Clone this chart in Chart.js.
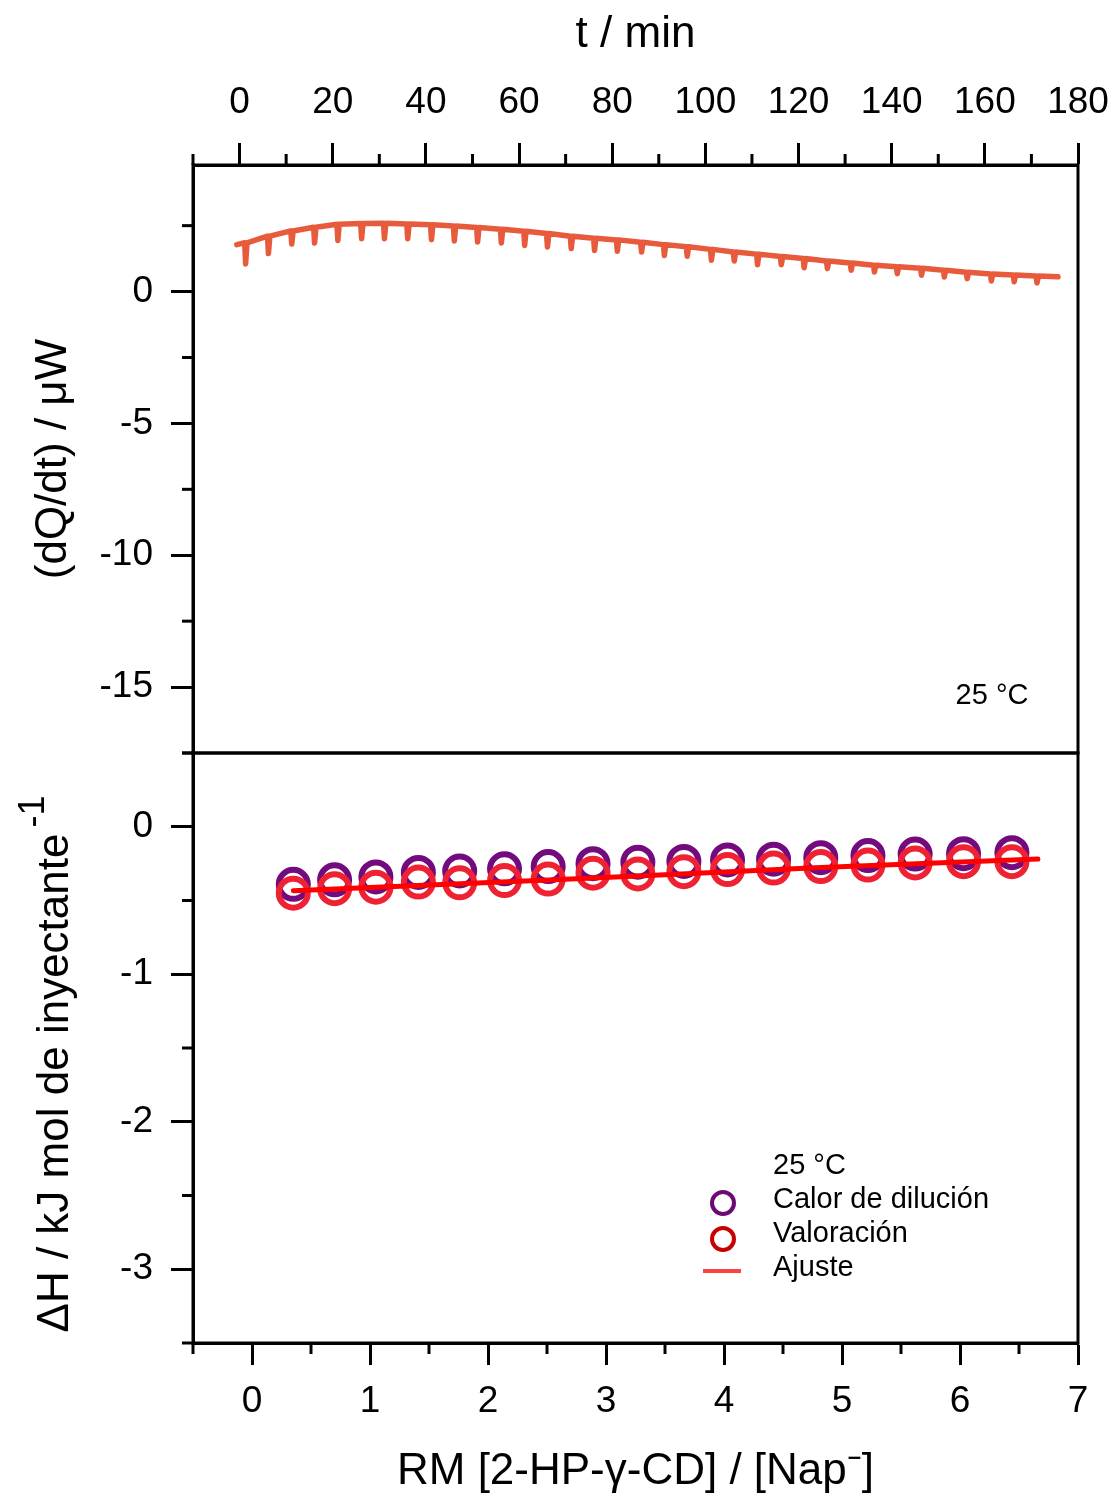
<!DOCTYPE html>
<html lang="es">
<head>
  <meta charset="UTF-8" />
  <title>ITC 2-HP-γ-CD / Nap⁻ - 25 °C</title>
  <script src="https://cdn.jsdelivr.net/npm/chart.js@4.4.1/dist/chart.umd.min.js"></script>
  <style>
    body { margin: 0; background: #fff; }
    #wrap { position: relative; width: 1115px; height: 1498px; }
    #wrap canvas { position: absolute; left: 0; }
    #thermo { top: 0; }
    #enthalpy { top: 750px; }
  </style>
</head>
<body>
  <div id="wrap">
    <canvas id="thermo" width="1115" height="757"></canvas>
    <canvas id="enthalpy" width="1115" height="748"></canvas>
  </div>

  <script>
    // ---- top panel: raw thermogram (t / min vs dQ/dt / µW) ----
    const injTime = [1.3, 6.2, 11.2, 16.1, 21.1, 26.2, 31.1, 36.1, 41.2, 46.1,
                     51.1, 56.2, 61.2, 66.1, 71.2, 76.2, 81.1, 86.3, 91.2, 96.1,
                     101.3, 106.2, 111.2, 116.3, 121.2, 126.2, 131.3, 136.3, 141.2, 146.4,
                     151.3, 156.2, 161.4, 166.3, 171.2];
    const baseline = [1.85, 2.10, 2.30, 2.44, 2.55, 2.58, 2.59, 2.56, 2.53, 2.49,
                      2.43, 2.36, 2.29, 2.20, 2.10, 2.02, 1.96, 1.87, 1.78, 1.70,
                      1.60, 1.50, 1.42, 1.33, 1.25, 1.16, 1.08, 1.00, 0.94, 0.88,
                      0.81, 0.73, 0.67, 0.63, 0.59];
    const spikeMin = [1.05, 1.44, 1.80, 1.84, 1.94, 2.00, 2.00, 2.00, 1.97, 1.92,
                      1.88, 1.84, 1.75, 1.69, 1.63, 1.56, 1.53, 1.50, 1.37, 1.34,
                      1.19, 1.16, 1.02, 1.02, 0.90, 0.87, 0.81, 0.74, 0.68, 0.62,
                      0.55, 0.49, 0.40, 0.37, 0.33];
    const traceStart = { x: -0.6, y: 1.78 };
    const traceEnd = { x: 175.7, y: 0.56 };

    const timeTicks = [0, 20, 40, 60, 80, 100, 120, 140, 160, 180];
    const timeMinor = [-10, 10, 30, 50, 70, 90, 110, 130, 150, 170];
    const dqTicks = [0, -5, -10, -15];
    const dqMinor = [2.5, -2.5, -7.5, -12.5, -17.5];

    // ---- bottom panel: integrated heats ----
    const rm = [0.35, 0.70, 1.05, 1.41, 1.76, 2.14, 2.51, 2.89, 3.27, 3.66,
                4.03, 4.42, 4.82, 5.22, 5.62, 6.03, 6.44];
    const dilution = [-0.39, -0.36, -0.34, -0.31, -0.30, -0.285, -0.27, -0.25, -0.24, -0.235,
                      -0.225, -0.22, -0.21, -0.195, -0.185, -0.183, -0.176];
    const titration = [-0.45, -0.42, -0.41, -0.375, -0.38, -0.365, -0.355, -0.315, -0.32, -0.305,
                       -0.29, -0.28, -0.27, -0.26, -0.245, -0.237, -0.237];
    const fitRm = [0.35, 1.76, 3.27, 4.82, 6.66];
    const fitDH = [-0.434, -0.386, -0.334, -0.276, -0.219];

    const rmTicks = [0, 1, 2, 3, 4, 5, 6, 7];
    const rmMinor = [-0.5, 0.5, 1.5, 2.5, 3.5, 4.5, 5.5, 6.5];
    const dhTicks = [0, -1, -2, -3];
    const dhMinor = [0.5, -0.5, -1.5, -2.5, -3.5];

    const FONT = "'Liberation Sans', Arial, sans-serif";
    Chart.defaults.font.family = FONT;
    Chart.defaults.color = '#000';

    const GRID = { drawOnChartArea: false, drawTicks: true, tickLength: 22, tickWidth: 3, tickColor: '#000' };
    const BORDER = { display: true, width: 3, color: '#000' };

    function fixedTicks(values) {
      return s => { s.ticks = values.map(v => ({ value: v })); };
    }
    // fixed box size, and no extra room for overhanging tick labels
    function fixedSize(size) {
      return s => {
        if (s.isHorizontal()) s.height = size; else s.width = size;
        s.paddingLeft = s.paddingRight = s.paddingTop = s.paddingBottom = 0;
      };
    }

    // frame on all four sides + short minor ticks
    function framePlugin(minor, extra) {
      return {
        id: 'frame',
        afterDraw(chart) {
          const { ctx, chartArea: a } = chart;
          ctx.save();
          ctx.strokeStyle = '#000';
          ctx.lineWidth = 3;
          ctx.strokeRect(a.left, a.top, a.right - a.left, a.bottom - a.top);
          for (const id in minor) {
            const s = chart.scales[id];
            minor[id].forEach(v => {
              const p = s.getPixelForValue(v);
              ctx.beginPath();
              if (s.isHorizontal()) {
                const y0 = s.position === 'top' ? a.top : a.bottom;
                const dir = s.position === 'top' ? -1 : 1;
                ctx.moveTo(p, y0);
                ctx.lineTo(p, y0 + dir * 11);
              } else {
                ctx.moveTo(a.left, p);
                ctx.lineTo(a.left - 11, p);
              }
              ctx.stroke();
            });
          }
          ctx.restore();
          if (extra) extra(chart);
        }
      };
    }

    // ---- top chart ----
    const trace = [traceStart];
    injTime.forEach((t, i) => {
      trace.push({ x: t - 0.2, y: baseline[i] });
      trace.push({ x: t, y: spikeMin[i] });
      trace.push({ x: t + 0.3, y: baseline[i] });
    });
    trace.push(traceEnd);

    new Chart(document.getElementById('thermo'), {
      type: 'line',
      data: {
        datasets: [{
          data: trace,
          borderColor: '#e85a3c',
          borderWidth: 5.5,
          borderJoinStyle: 'round',
          borderCapStyle: 'round',
          pointRadius: 0,
          tension: 0
        }]
      },
      options: {
        responsive: false,
        animation: false,
        devicePixelRatio: 1,
        layout: { autoPadding: false, padding: { left: 0, right: 37, top: 0, bottom: 4 } },
        plugins: { legend: { display: false }, tooltip: { enabled: false } },
        scales: {
          x: {
            type: 'linear', position: 'top', min: -10, max: 180,
            afterBuildTicks: fixedTicks(timeTicks),
            afterFit: fixedSize(165),
            grid: GRID, border: BORDER,
            ticks: { font: { size: 37 }, padding: 18, maxRotation: 0, autoSkip: false, callback: v => v },
            title: { display: true, text: 't / min', font: { size: 44 }, padding: { top: 8, bottom: 0 } }
          },
          y: {
            type: 'linear', min: -17.5, max: 4.8,
            afterBuildTicks: fixedTicks(dqTicks),
            afterFit: fixedSize(193),
            grid: GRID, border: BORDER,
            ticks: { font: { size: 37 }, padding: 18, autoSkip: false, callback: v => v },
            title: { display: true, text: '(dQ/dt) / μW', font: { size: 44 }, padding: { top: 27, bottom: 0 } }
          }
        }
      },
      plugins: [framePlugin({ x: timeMinor, y: dqMinor }, chart => {
        const ctx = chart.ctx;
        ctx.save();
        ctx.fillStyle = '#000';
        ctx.font = '29px ' + FONT;
        ctx.textAlign = 'center';
        ctx.textBaseline = 'middle';
        ctx.fillText('25 °C', 992, 696);
        ctx.restore();
      })]
    });

    // ---- bottom chart ----
    const OFF = 750; // canvas top in page coordinates

    function drawBottomExtras(chart) {
      const ctx = chart.ctx;
      ctx.save();
      ctx.fillStyle = '#000';

      // y title with superscript
      ctx.save();
      ctx.translate(56, 1083 - OFF);
      ctx.rotate(-Math.PI / 2);
      ctx.font = '44px ' + FONT;
      ctx.textAlign = 'center';
      ctx.textBaseline = 'middle';
      const main = 'ΔH / kJ mol de inyectante';
      ctx.fillText(main, 0, 0);
      const w = ctx.measureText(main).width;
      ctx.font = '36px ' + FONT;
      ctx.textAlign = 'left';
      ctx.fillText('-1', w / 2 + 6, -22);
      ctx.restore();

      // legend
      ctx.font = '29px ' + FONT;
      ctx.textAlign = 'left';
      ctx.textBaseline = 'middle';
      ctx.fillText('25 °C', 773, 1166 - OFF);
      ctx.fillText('Calor de dilución', 773, 1200 - OFF);
      ctx.fillText('Valoración', 773, 1234 - OFF);
      ctx.fillText('Ajuste', 773, 1268 - OFF);

      ctx.lineWidth = 4;
      ctx.strokeStyle = '#6b0a72';
      ctx.beginPath(); ctx.arc(723, 1203 - OFF, 11, 0, Math.PI * 2); ctx.stroke();
      ctx.strokeStyle = '#c80000';
      ctx.beginPath(); ctx.arc(723, 1239 - OFF, 11, 0, Math.PI * 2); ctx.stroke();
      ctx.strokeStyle = '#ff4040';
      ctx.beginPath(); ctx.moveTo(703, 1271 - OFF); ctx.lineTo(741, 1271 - OFF); ctx.stroke();
      ctx.restore();
    }

    new Chart(document.getElementById('enthalpy'), {
      type: 'scatter',
      data: {
        datasets: [
          {
            label: 'Ajuste',
            type: 'line',
            data: fitRm.map((x, i) => ({ x, y: fitDH[i] })),
            borderColor: '#ff0000',
            borderWidth: 5,
            borderCapStyle: 'round',
            pointRadius: 0,
            tension: 0.3,
            order: 0
          },
          {
            label: 'Valoración',
            data: rm.map((x, i) => ({ x, y: titration[i] })),
            borderColor: '#ef2234',
            backgroundColor: 'rgba(0,0,0,0)',
            borderWidth: 6,
            pointRadius: 14.5,
            order: 1
          },
          {
            label: 'Calor de dilución',
            data: rm.map((x, i) => ({ x, y: dilution[i] })),
            borderColor: '#730a7d',
            backgroundColor: 'rgba(0,0,0,0)',
            borderWidth: 6,
            pointRadius: 14.5,
            order: 2
          }
        ]
      },
      options: {
        responsive: false,
        animation: false,
        devicePixelRatio: 1,
        layout: { autoPadding: false, padding: { left: 0, right: 37, top: 3, bottom: 0 } },
        plugins: { legend: { display: false }, tooltip: { enabled: false } },
        scales: {
          x: {
            type: 'linear', position: 'bottom', min: -0.5, max: 7,
            afterBuildTicks: fixedTicks(rmTicks),
            afterFit: fixedSize(155),
            grid: GRID, border: BORDER,
            ticks: { font: { size: 37 }, padding: 15, maxRotation: 0, autoSkip: false, callback: v => v },
            title: { display: true, text: 'RM [2-HP-γ-CD] / [Nap⁻]', font: { size: 44 }, padding: { top: 0, bottom: 0 } }
          },
          y: {
            type: 'linear', min: -3.5, max: 0.5,
            afterBuildTicks: fixedTicks(dhTicks),
            afterFit: fixedSize(193),
            grid: GRID, border: BORDER,
            ticks: { font: { size: 37 }, padding: 18, autoSkip: false, callback: v => v },
            title: { display: false }
          }
        }
      },
      plugins: [framePlugin({ x: rmMinor, y: dhMinor }, drawBottomExtras)]
    });
  </script>
</body>
</html>
